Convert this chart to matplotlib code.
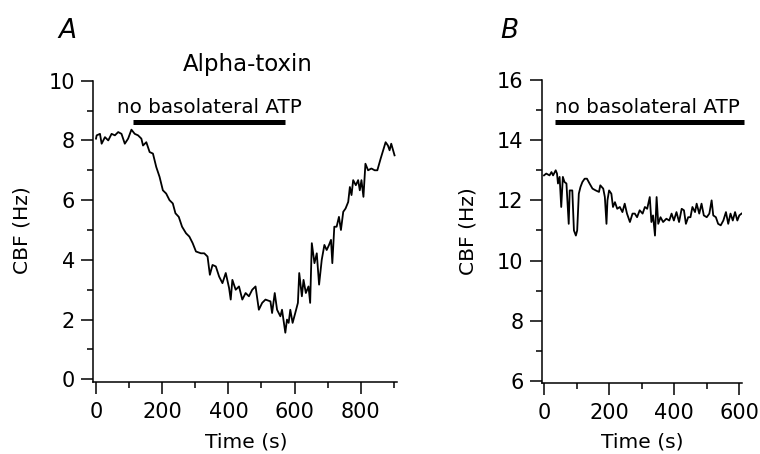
import matplotlib
matplotlib.use("Agg")
import matplotlib.pyplot as plt
import numpy as np

# ---------------- data ----------------
# Panel A: Alpha-toxin, CBF (Hz) vs time (s)
time_a = [0, 2, 12, 17, 27, 37, 47, 57, 67, 77, 87, 97, 107, 117, 127, 137, 142, 152, 162, 172,
          182, 192, 202, 212, 222, 232, 240, 250, 260, 272, 282, 292, 302, 317, 327, 337, 344, 352,
          362, 372, 382, 392, 402, 407, 412, 422, 432, 442, 452, 462, 472, 482, 492, 502, 512, 527,
          532, 540, 547, 557, 562, 572, 577, 582, 587, 594, 602, 610, 614, 622, 627, 634, 642, 647,
          652, 660, 667, 674, 682, 690, 697, 704, 710, 714, 720, 727, 734, 740, 747, 754, 762, 767,
          772, 777, 785, 792, 797, 802, 808, 814, 822, 832, 842, 850, 860, 875, 882, 887, 892, 902]
cbf_a = [8.06, 8.17, 8.22, 7.89, 8.11, 8.00, 8.22, 8.17, 8.28, 8.22, 7.89, 8.06, 8.36, 8.22, 8.17,
         8.06, 7.83, 7.94, 7.61, 7.56, 7.11, 6.78, 6.33, 6.22, 6.00, 5.89, 5.56, 5.44, 5.11, 4.89,
         4.78, 4.56, 4.28, 4.22, 4.22, 4.11, 3.50, 3.83, 3.78, 3.44, 3.22, 3.56, 3.06, 2.67, 3.33,
         3.00, 3.11, 2.67, 2.89, 2.78, 3.00, 3.11, 2.33, 2.56, 2.67, 2.61, 2.22, 2.89, 2.33, 2.11,
         2.33, 1.56, 2.00, 1.89, 2.33, 1.89, 2.22, 2.56, 3.56, 2.78, 3.33, 2.89, 3.11, 2.56, 4.56,
         3.89, 4.22, 3.17, 4.00, 4.50, 4.33, 4.50, 4.67, 3.89, 5.11, 5.11, 5.44, 5.00, 5.61, 5.72,
         5.94, 6.44, 6.17, 6.67, 6.50, 6.67, 6.33, 6.67, 6.11, 7.22, 7.00, 7.06, 7.00, 7.00, 7.39,
         7.94, 7.83, 7.67, 7.89, 7.50]

# Panel B: CBF (Hz) vs time (s)
time_b = [0, 7, 17, 23, 28, 36, 40, 43, 48, 53, 58, 63, 69, 76, 79, 87, 92, 98, 102, 107, 112, 118,
          125, 132, 140, 149, 159, 169, 173, 182, 187, 192, 195, 200, 207, 212, 218, 225, 233, 241,
          248, 255, 264, 272, 279, 286, 294, 303, 310, 317, 325, 330, 335, 341, 346, 351, 358, 366,
          376, 385, 392, 399, 407, 415, 423, 430, 436, 443, 450, 456, 464, 469, 477, 484, 491, 500,
          508, 515, 520, 528, 535, 543, 551, 559, 566, 573, 580, 587, 594, 600, 607]
cbf_b = [12.83, 12.89, 12.83, 12.94, 12.83, 13.00, 12.89, 12.56, 12.78, 11.78, 12.78, 12.61, 12.56,
         11.22, 12.33, 12.33, 11.00, 10.83, 11.00, 12.22, 12.44, 12.61, 12.72, 12.72, 12.56, 12.39,
         12.33, 12.28, 12.50, 12.39, 12.11, 11.22, 12.00, 12.33, 12.22, 11.78, 11.94, 11.72, 11.78,
         11.61, 11.89, 11.56, 11.28, 11.56, 11.56, 11.44, 11.67, 11.56, 11.78, 11.72, 12.11, 11.28,
         11.50, 10.83, 12.11, 11.22, 11.44, 11.28, 11.39, 11.33, 11.56, 11.33, 11.61, 11.28, 11.72,
         11.67, 11.22, 11.44, 11.44, 11.78, 11.61, 11.89, 11.56, 11.89, 11.50, 11.44, 11.56, 12.00,
         11.50, 11.44, 11.22, 11.17, 11.33, 11.61, 11.22, 11.56, 11.33, 11.61, 11.33, 11.50, 11.56]

# "no basolateral ATP" periods: [start, end] (s) and bar level (Hz)
atp_bar_a = [112, 571]
atp_level_a = 8.63
atp_bar_b = [33, 614]
atp_level_b = 14.61

xticks_a = [0, 200, 400, 600, 800]
yticks_a = [0, 2, 4, 6, 8, 10]
xticks_b = [0, 200, 400, 600]
yticks_b = [6, 8, 10, 12, 14, 16]

# ---------------- figure ----------------
plt.rcParams['font.family'] = ['DejaVu Sans']
W, H = 760, 454
fig = plt.figure(figsize=(W / 100, H / 100), dpi=100)

FS_TICK = 15
FS_TXT = 14.3
FS_LAB = 14.6
LW_AX = 1.1


def style_axes(ax):
    for s in ['top', 'right']:
        ax.spines[s].set_visible(False)
    for s in ['left', 'bottom']:
        ax.spines[s].set_linewidth(LW_AX)
        ax.spines[s].set_color('black')
    ax.tick_params(which='major', direction='out', length=8.5, width=LW_AX,
                   labelsize=FS_TICK, colors='black')
    ax.tick_params(axis='x', which='major', pad=6)
    ax.tick_params(axis='y', which='major', pad=4.5)
    ax.tick_params(which='minor', direction='out', length=4.5, width=LW_AX)
    ax.patch.set_alpha(0)


# ---- Panel A ----
axA = fig.add_axes([93.3 / W, 1 - 381.7 / H, (396.7 - 93.3) / W, (381.7 - 80.7) / H])
axA.plot(time_a, cbf_a, color='black', lw=1.3)
axA.set_xlim(-8.2, 908.5)
axA.set_ylim(-0.08, 10)
axA.set_xticks(xticks_a)
axA.set_xticks([100, 300, 500, 700, 900], minor=True)
axA.set_yticks(yticks_a)
axA.set_yticks([1, 3, 5, 7, 9], minor=True)
style_axes(axA)
axA.plot(atp_bar_a, [atp_level_a] * 2, color='black', lw=3.6,
         solid_capstyle='butt', clip_on=False)
axA.text(np.mean(atp_bar_a), 8.92, 'no basolateral ATP', ha='center', va='baseline',
         fontsize=FS_TXT, clip_on=False)
axA.text(459, 10.53, 'Alpha-toxin', ha='center', va='center', fontsize=16.5, clip_on=False)

# ---- Panel B ----
axB = fig.add_axes([541.7 / W, 1 - 383.3 / H, (741.7 - 541.7) / W, (383.3 - 80) / H])
axB.plot(time_b, cbf_b, color='black', lw=1.3)
axB.set_xlim(-7, 607.4)
axB.set_ylim(5.92, 16)
axB.set_xticks(xticks_b)
axB.set_xticks([100, 300, 500], minor=True)
axB.set_yticks(yticks_b)
axB.set_yticks([7, 9, 11, 13, 15], minor=True)
style_axes(axB)
axB.plot(atp_bar_b, [atp_level_b] * 2, color='black', lw=3.6,
         solid_capstyle='butt', clip_on=False)
axB.text(atp_bar_b[0], 14.9, 'no basolateral ATP', ha='left', va='baseline',
         fontsize=FS_TXT, clip_on=False)

# ---- labels ----
for xc, yc in [(22, 230), (468, 231)]:
    fig.text(xc / W, 1 - yc / H, 'CBF (Hz)', rotation=90, ha='center', va='center',
             fontsize=FS_LAB)
for xc in [246, 642]:
    fig.text(xc / W, 1 - 442 / H, 'Time (s)', ha='center', va='center', fontsize=FS_LAB)

fig.text(58 / W, 1 - 38 / H, 'A', style='italic', fontsize=19, ha='left', va='baseline')
fig.text(500 / W, 1 - 38 / H, 'B', style='italic', fontsize=19, ha='left', va='baseline')

fig.savefig('out.png', dpi=100)
